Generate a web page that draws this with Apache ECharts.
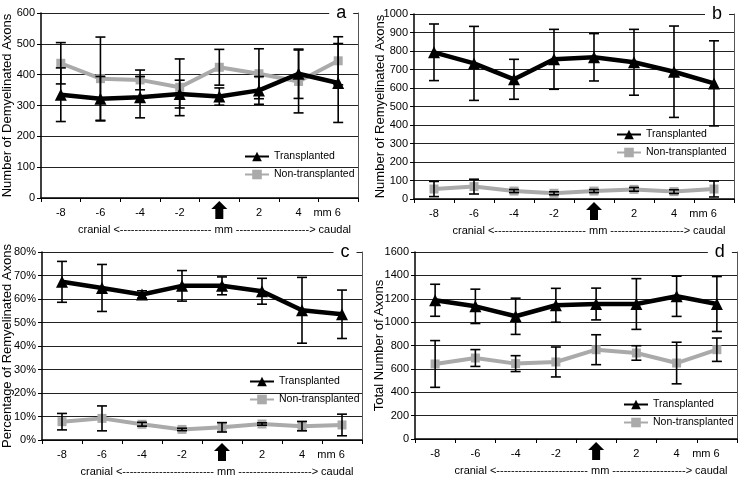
<!DOCTYPE html>
<html><head><meta charset="utf-8">
<script src="https://cdn.jsdelivr.net/npm/echarts@6/dist/echarts.min.js"></script>
<style>html,body{margin:0;padding:0;background:#fff}#c{width:739px;height:482px}</style>
</head><body><div id="c"></div>
<script>
// ---- data ----
const categories = ['-8', '-6', '-4', '-2', '0', '2', '4', '6'];

const demyT = [335, 322, 327, 337, 329, 349, 403, 373];
const demyTErr = [87, 72, 67, 45, 28, 45, 80, 128];
const demyNT = [437, 387, 383, 359, 424, 403, 378, 445];
const demyNTErr = [67, 135, 32, 92, 58, 81, 102, 78];

const remyT = [793, 733, 647, 755, 766, 739, 688, 625];
const remyTErr = [153, 200, 108, 162, 128, 178, 247, 230];
const remyNT = [54, 67, 43, 31, 43, 52, 40, 54];
const remyNTErr = [41, 40, 8, 8, 8, 10, 10, 43];

const pctT = [67.3, 64.7, 61.9, 65.6, 65.6, 63.3, 55.2, 53.5];
const pctTErr = [8.7, 10, 1.6, 6.5, 3.8, 5.5, 14, 10.3];
const pctNT = [7.8, 9.2, 6.7, 4.5, 5.4, 6.8, 5.9, 6.4];
const pctNTErr = [3.5, 5.3, 0.8, 0.5, 2, 0.5, 2, 4.6];

const totT = [1187, 1135, 1050, 1144, 1155, 1155, 1221, 1155];
const totTErr = [137, 147, 155, 145, 136, 217, 172, 235];
const totNT = [642, 693, 645, 659, 764, 736, 650, 764];
const totNTErr = [200, 72, 68, 128, 128, 62, 178, 100];

const seriesNames = ['Transplanted', 'Non-transplanted'];
const xAxisName = 'cranial <' + '-'.repeat(25) + ' mm ' + '-'.repeat(20) + '> caudal';

// ---- layout ----
const FONT = "'Liberation Sans', Arial, Helvetica, sans-serif";
const panels = [
  {letter: 'a', title: 'Number of Demyelinated Axons', max: 600, interval: 100, pct: false,
   T: demyT, TE: demyTErr, N: demyNT, NE: demyNTErr,
   grid: {left: 40, top: 13, width: 318, height: 185}, legend: {left: 244, top: 151}, nameGap: 27},
  {letter: 'b', title: 'Number of Remyelinated Axons', max: 1000, interval: 100, pct: false,
   T: remyT, TE: remyTErr, N: remyNT, NE: remyNTErr,
   grid: {left: 414, top: 14, width: 320, height: 185}, legend: {left: 616, top: 129}, nameGap: 27},
  {letter: 'c', title: 'Percentage of Remyelinated Axons', max: 80, interval: 10, pct: true,
   T: pctT, TE: pctTErr, N: pctNT, NE: pctNTErr,
   grid: {left: 40, top: 252, width: 322, height: 188}, legend: {left: 249, top: 376}, nameGap: 28},
  {letter: 'd', title: 'Total Number of Axons', max: 1600, interval: 200, pct: false,
   T: totT, TE: totTErr, N: totNT, NE: totNTErr,
   grid: {left: 415, top: 252, width: 322, height: 187}, legend: {left: 623, top: 399}, nameGap: 29}
];

function errRender(params, api) {
  const x = api.value(0), lo = api.value(1), hi = api.value(2);
  const p1 = api.coord([x, lo]), p2 = api.coord([x, hi]);
  const w = 5;
  const style = {stroke: '#000', lineWidth: 1.6, fill: null};
  return {type: 'group', children: [
    {type: 'line', shape: {x1: p1[0], y1: p1[1], x2: p2[0], y2: p2[1]}, style: style},
    {type: 'line', shape: {x1: p1[0] - w, y1: p1[1], x2: p1[0] + w, y2: p1[1]}, style: style},
    {type: 'line', shape: {x1: p2[0] - w, y1: p2[1], x2: p2[0] + w, y2: p2[1]}, style: style}
  ]};
}
function errData(m, e) { return m.map((v, i) => [i, v - e[i], v + e[i]]); }

const option = {
  animation: false,
  backgroundColor: '#fff',
  textStyle: {fontFamily: FONT, color: '#000'},
  grid: panels.map(p => Object.assign({containLabel: false}, p.grid)),
  legend: panels.map(p => ({
    data: seriesNames, orient: 'vertical', left: p.legend.left, top: p.legend.top,
    itemWidth: 24, itemHeight: 12, itemGap: 7, selectedMode: false,
    textStyle: {fontFamily: FONT, fontSize: 10.5, color: '#000'}, padding: 0
  })),
  xAxis: panels.map((p, i) => ({
    type: 'category', gridIndex: i, data: categories, boundaryGap: true,
    axisLine: {lineStyle: {color: '#000', width: 1.5}},
    axisTick: {show: true, length: 4, lineStyle: {color: '#000', width: 1}},
    axisLabel: {fontFamily: FONT, fontSize: 11, color: '#000', margin: 9, interval: 0,
      formatter: v => v === '0' ? '' : (v === '6' ? '{mm|mm} 6{sp|}' : v),
      rich: {
        mm: {fontFamily: FONT, fontSize: 11, color: '#000'},
        sp: {width: 22}
      }},
    name: xAxisName, nameLocation: 'middle', nameGap: 26, nameMoveOverlap: false,
    nameTextStyle: {fontFamily: FONT, fontSize: 11, color: '#000', padding: [0, 0, 0, 30]}
  })),
  yAxis: panels.map((p, i) => ({
    type: 'value', gridIndex: i, min: 0, max: p.max, interval: p.interval,
    axisLine: {show: true, lineStyle: {color: '#000', width: 1.5}},
    axisTick: {show: true, length: 4, lineStyle: {color: '#000'}},
    axisLabel: {fontFamily: FONT, fontSize: 11, color: '#000', margin: 6,
      formatter: v => p.pct ? v + '%' : String(v)},
    splitLine: {show: true, lineStyle: {color: '#222', width: 1}},
    name: p.title, nameLocation: 'middle', nameGap: p.nameGap, nameRotate: 90,
    nameMoveOverlap: false,
    nameTextStyle: {fontFamily: FONT, fontSize: 13, color: '#000'}
  })).concat(panels.map((p, i) => ({
    type: 'value', gridIndex: i, position: 'right', min: 0, max: 1,
    axisLine: {show: true, lineStyle: {color: '#555', width: 1}},
    axisTick: {show: false}, axisLabel: {show: false}, splitLine: {show: false}
  }))),
  series: []
};

panels.forEach((p, i) => {
  option.series.push({
    name: 'Non-transplanted', type: 'line', xAxisIndex: i, yAxisIndex: i, data: p.N,
    symbol: 'rect', symbolSize: 9, color: '#aaaaaa',
    lineStyle: {color: '#aaaaaa', width: 4}, itemStyle: {color: '#aaaaaa'}, z: 2
  });
  option.series.push({
    name: 'Transplanted', type: 'line', xAxisIndex: i, yAxisIndex: i, data: p.T,
    symbol: 'triangle', symbolSize: 12, color: '#000',
    lineStyle: {color: '#000', width: 4.5}, itemStyle: {color: '#000'}, z: 3
  });
  option.series.push({
    name: 'errNT' + i, type: 'custom', xAxisIndex: i, yAxisIndex: i,
    data: errData(p.N, p.NE), renderItem: errRender, encode: {x: 0, y: [1, 2]}, z: 4
  });
  option.series.push({
    name: 'errT' + i, type: 'custom', xAxisIndex: i, yAxisIndex: i,
    data: errData(p.T, p.TE), renderItem: errRender, encode: {x: 0, y: [1, 2]}, z: 4
  });
});

const chart = echarts.init(document.getElementById('c'));
chart.setOption(option);

// arrows at position 0 and panel letters
const graphics = [];
panels.forEach((p, i) => {
  const pt = chart.convertToPixel({gridIndex: i}, [4, 0]);
  const x = pt[0], y = pt[1];
  graphics.push({
    type: 'polygon', z: 100,
    shape: {points: [[x, y + 3], [x + 8, y + 11], [x + 4, y + 11], [x + 4, y + 21],
                     [x - 4, y + 21], [x - 4, y + 11], [x - 8, y + 11]]},
    style: {fill: '#000'}
  });
  const top = chart.convertToPixel({gridIndex: i}, [7, p.max]);
  graphics.push({
    type: 'text', z: 100, x: top[0] + 3, y: top[1],
    style: {text: p.letter, fontFamily: FONT, fontSize: 18, fill: '#000',
      align: 'center', verticalAlign: 'middle', backgroundColor: '#fff', padding: [0, 7]}
  });
});
chart.setOption({graphic: graphics});
</script>
</body></html>
